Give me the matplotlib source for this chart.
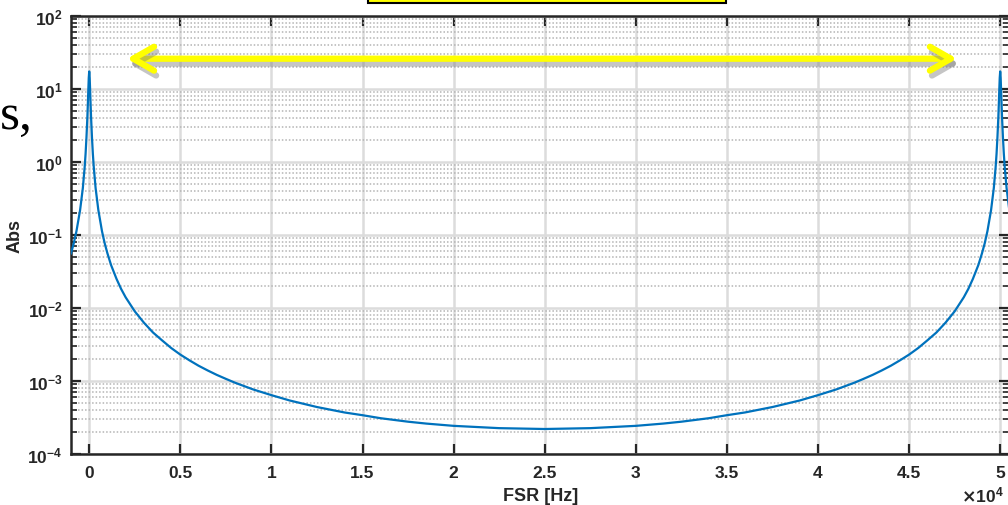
import matplotlib
matplotlib.use('Agg')
import matplotlib.pyplot as plt
import matplotlib.patheffects as pe
from matplotlib.patches import FancyArrowPatch, Rectangle
from matplotlib.ticker import FuncFormatter, LogLocator, NullFormatter

""" Values read off the reference picture (FSR in Hz, magnitude) """
# first resonance up to the middle of the range
fsr_left = [-1000, -850, -700, -500, -350, -250, -200, -150, -100, -75, -50, -25, 0,
            25, 50, 75, 100, 150, 200, 250, 350, 500, 700, 850, 1000, 1200, 1500, 1750,
            2000, 2500, 3000, 3500, 4000, 4500, 5000, 5500, 6000, 6500, 7000, 7500, 8000,
            9000, 10000, 11000, 12500, 14000, 15000, 16000, 17500, 18500, 20000, 22500, 25000]
abs_left = [0.056, 0.0768, 0.113, 0.22, 0.44, 0.85, 1.29, 2.2, 4.2, 6.25, 9.6, 14.2, 17.4,
            14.2, 9.6, 6.25, 4.2, 2.2, 1.29, 0.85, 0.44, 0.22, 0.113, 0.0768, 0.056, 0.0387,
            0.025, 0.01825, 0.014, 0.0090, 0.0063, 0.00462, 0.0036, 0.00283, 0.0023, 0.00192,
            0.00162, 0.001395, 0.001213, 0.00107, 0.000948, 0.000766, 0.00064, 0.000541,
            0.00044, 0.000371, 0.00034, 0.000309, 0.000277, 0.000261, 0.000243, 0.000226,
            0.00022]
# second resonance, from the middle to the right edge
fsr_right = [27500, 30000, 31500, 32500, 34000, 35000, 36000, 37500, 39000, 40000, 41000,
             42000, 42500, 43000, 43500, 44000, 44500, 45000, 45500, 46000, 46500, 47000,
             47500, 48000, 48250, 48500, 48800, 49000, 49150, 49300, 49500, 49650, 49750,
             49800, 49850, 49900, 49925, 49950, 49975, 50000, 50025, 50050, 50075, 50100,
             50150, 50200, 50250, 50350, 50500]
abs_right = [0.000226, 0.000243, 0.000261, 0.000277, 0.000309, 0.00034, 0.000371, 0.00044,
             0.000541, 0.00064, 0.000766, 0.000948, 0.00107, 0.001213, 0.001395, 0.00162,
             0.00192, 0.0023, 0.00283, 0.0036, 0.00462, 0.0063, 0.0090, 0.014, 0.01825,
             0.025, 0.0387, 0.056, 0.0768, 0.113, 0.22, 0.44, 0.85, 1.29, 2.2, 4.2, 6.25,
             9.6, 14.2, 17.4, 14.2, 9.6, 6.25, 4.2, 2.2, 1.29, 0.85, 0.44, 0.22]

x_ticks = [0, 5000, 10000, 15000, 20000, 25000, 30000, 35000, 40000, 45000, 50000]
arrow_span = (2070, 47630)
arrow_level = 26

plt.rcParams['font.family'] = ['Liberation Sans', 'DejaVu Sans']
plt.rcParams['font.weight'] = 'bold'

ink = '#262626'
W, H = 1008, 506
fig = plt.figure(figsize=(W / 100, H / 100), dpi=100)
ax = fig.add_axes([71 / W, 51 / H, 938.3 / W, 438 / H])

ax.plot(fsr_left + fsr_right, abs_left + abs_right, color='#0072BD', lw=1.6, zorder=3)

ax.set_yscale('log')
ax.set_xlim(-1000, 50500)
ax.set_ylim(1e-4, 1e2)

ax.set_xticks(x_ticks)
ax.xaxis.set_major_formatter(FuncFormatter(lambda v, p: f'{v / 1e4:g}'))
ax.xaxis.offsetText.set_visible(False)
ax.yaxis.set_major_locator(LogLocator(base=10, numticks=10))
ax.yaxis.set_minor_locator(LogLocator(base=10, subs=range(2, 10), numticks=20))
ax.yaxis.set_minor_formatter(NullFormatter())

ax.grid(True, which='major', color='#dcdcdc', lw=1.8, zorder=0)
ax.grid(True, which='minor', axis='y', color='#b4b4b4', lw=1.1, ls=(0, (1, 1.3)), zorder=0)
ax.set_axisbelow(True)

for s in ax.spines.values():
    s.set_linewidth(1.8)
    s.set_color(ink)
ax.tick_params(which='both', direction='in', top=True, right=True, colors=ink, labelsize=12.5)
ax.tick_params(which='major', length=7, width=1.6)
ax.tick_params(which='minor', length=4, width=1.2)
ax.tick_params(axis='x', pad=8)
ax.tick_params(axis='y', pad=6)

ax.set_xlabel('FSR [Hz]', fontsize=13, fontweight='bold', color=ink, labelpad=5)
ax.set_ylabel('Abs', fontsize=13, fontweight='bold', color=ink, labelpad=3)
fig.text(961 / W, 4 / H, r'$\times\mathdefault{10^{4}}$', fontsize=12.5, color=ink, va='baseline')

""" Yellow double arrow with a soft shadow """
arrow = FancyArrowPatch((arrow_span[0], arrow_level), (arrow_span[1], arrow_level),
                        arrowstyle='<->,head_length=0.75,head_width=0.43', mutation_scale=20,
                        lw=4.5, color='#ffff00', shrinkA=0, shrinkB=0, zorder=5)
arrow.set_path_effects([pe.SimpleLineShadow(offset=(1.5, -3.5), shadow_color='#808080', alpha=0.45),
                        pe.Normal()])
ax.add_patch(arrow)

""" Pieces of the slide cut off at the edges """
fig.add_artist(Rectangle((368 / W, (H - 4) / H), 358 / W, 30 / H, transform=fig.transFigure,
                         facecolor='#ffff00', edgecolor='black', lw=1.5, clip_on=False))
fig.text(0, (H - 129) / H, 's,', fontsize=37, family='Liberation Serif', weight='normal',
         color='black', ha='left', va='baseline')

fig.savefig('out.png', dpi=100)
